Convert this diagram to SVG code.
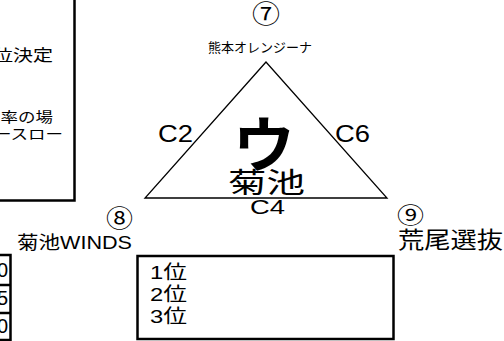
<svg xmlns="http://www.w3.org/2000/svg" width="504" height="341" viewBox="0 0 504 341">
<style>
text{font-family:"Liberation Sans","Noto Sans CJK JP",sans-serif;fill:#000}
.box{fill:#fff;stroke:#000;stroke-width:2.5}
.tri{fill:none;stroke:#000;stroke-width:1.3}
</style>
<rect width="504" height="341" fill="#fff"/>
<g id="info-box">
<rect class="box" x="-10" y="-10" width="84.5" height="210.5"/>
<text transform="translate(53,61) scale(1.25,1)" text-anchor="end" font-size="16">位決定</text>
<text transform="translate(53,122) scale(1.25,1)" text-anchor="end" font-size="14">率の場</text>
<text transform="translate(63,139) scale(1.25,1)" text-anchor="end" font-size="14">ースロー</text>
</g>
<g id="score-table">
<rect class="box" x="-10" y="255" width="20.5" height="85"/>
<line x1="-10" y1="285" x2="10.5" y2="285" stroke="#000" stroke-width="2.5"/>
<line x1="-10" y1="313" x2="10.5" y2="313" stroke="#000" stroke-width="2.5"/>
<text x="8" y="277" text-anchor="end" font-size="20">0</text>
<text x="8" y="305" text-anchor="end" font-size="20">5</text>
<text x="8" y="333" text-anchor="end" font-size="20">0</text>
</g>
<g id="rank-box">
<rect class="box" x="137.5" y="256" width="256" height="83"/>
<text x="150" y="279" font-size="19" textLength="37" lengthAdjust="spacingAndGlyphs">1位</text>
<text x="150" y="301" font-size="19" textLength="37" lengthAdjust="spacingAndGlyphs">2位</text>
<text x="150" y="323" font-size="19" textLength="37" lengthAdjust="spacingAndGlyphs">3位</text>
</g>
<g id="connectors">
<polygon class="tri" points="266,62 145,198 387,198"/>
<text x="158" y="142" font-size="24" textLength="35" lengthAdjust="spacingAndGlyphs">C2</text>
<text x="335" y="142" font-size="24" textLength="35" lengthAdjust="spacingAndGlyphs">C6</text>
<text x="250" y="214" font-size="21" textLength="35" lengthAdjust="spacingAndGlyphs">C4</text>
</g>
<g id="group-u">
<text x="233" y="167" font-size="60" font-weight="bold" textLength="62" lengthAdjust="spacingAndGlyphs">ウ</text>
<text x="228" y="193" font-size="28" textLength="77" lengthAdjust="spacingAndGlyphs">菊池</text>
</g>
<g id="team-7">
<text x="252" y="23" font-size="25" textLength="28" lengthAdjust="spacingAndGlyphs">⑦</text>
<text x="208" y="52" font-size="13" textLength="104" lengthAdjust="spacingAndGlyphs">熊本オレンジーナ</text>
</g>
<g id="team-8">
<text x="106" y="227" font-size="24" textLength="27" lengthAdjust="spacingAndGlyphs">⑧</text>
<text x="17" y="249" font-size="18" textLength="115" lengthAdjust="spacingAndGlyphs">菊池WINDS</text>
</g>
<g id="team-9">
<text x="397" y="223" font-size="22" textLength="27" lengthAdjust="spacingAndGlyphs">⑨</text>
<text x="398" y="248" font-size="23" textLength="105" lengthAdjust="spacingAndGlyphs">荒尾選抜</text>
</g>
</svg>
